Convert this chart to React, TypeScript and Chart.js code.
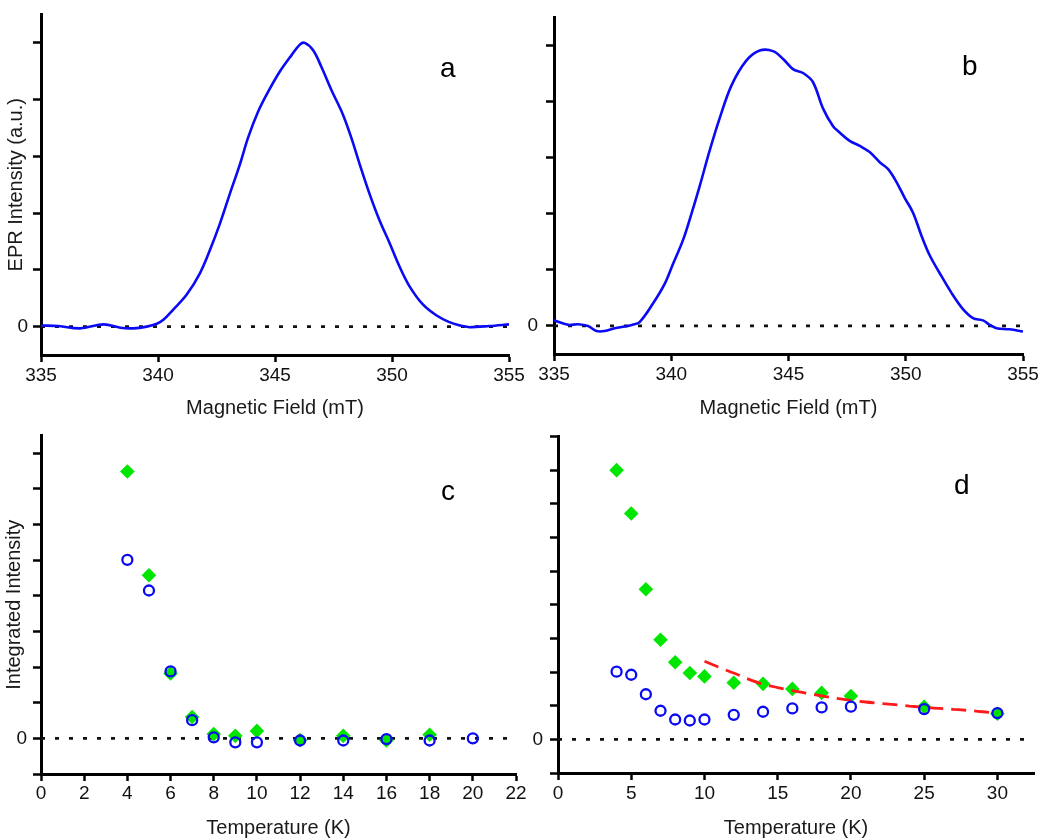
import React, { useEffect, useRef } from 'react';
import { Chart, registerables } from 'chart.js';

Chart.register(...registerables);

const FONT = "'Liberation Sans', Arial, Helvetica, sans-serif";
const BLUE = '#0a0af5';
const GREEN = '#00e600';
const RED = '#ff1a1a';
const ZERO_COLOR = '#111111';

// ---------- Panel a: EPR spectrum ----------
const fieldA = [335.0, 335.75, 336.68, 337.68, 338.39, 338.94, 339.52, 339.95, 340.23, 340.65, 341.22, 341.79, 342.22, 342.65, 343.07, 343.5, 343.85, 344.28, 344.71, 345.2, 345.7, 346.06, 346.27, 346.63, 346.98, 347.41, 347.9, 348.26, 348.62, 349.04, 349.47, 349.9, 350.32, 350.75, 351.32, 351.89, 352.45, 353.02, 353.31, 354.16, 355.0];
const intensityA = [0.02, 0.01, -0.03, 0.04, -0.02, -0.03, 0.0, 0.05, 0.12, 0.3, 0.56, 0.94, 1.35, 1.82, 2.34, 2.86, 3.33, 3.79, 4.14, 4.49, 4.78, 4.97, 5.0, 4.87, 4.58, 4.17, 3.74, 3.33, 2.86, 2.34, 1.87, 1.47, 1.06, 0.71, 0.39, 0.2, 0.08, 0.01, -0.01, 0.01, 0.04];

// ---------- Panel b: EPR spectrum ----------
const fieldB = [335.0, 335.6, 336.02, 336.45, 336.81, 337.16, 337.59, 338.01, 338.35, 338.65, 339.22, 339.72, 340.07, 340.5, 340.86, 341.21, 341.64, 342.07, 342.57, 343.2, 343.77, 344.34, 344.77, 345.19, 345.62, 346.04, 346.47, 346.9, 347.18, 347.61, 348.04, 348.46, 348.89, 349.24, 349.6, 349.96, 350.31, 350.67, 351.02, 351.45, 351.95, 352.44, 352.87, 353.29, 353.58, 353.87, 354.43, 355.0];
const intensityB = [0.1, 0.02, 0.03, 0.0, -0.09, -0.09, -0.04, -0.01, 0.02, 0.07, 0.4, 0.75, 1.1, 1.53, 2.0, 2.49, 3.13, 3.71, 4.29, 4.73, 4.91, 4.9, 4.76, 4.58, 4.51, 4.35, 3.88, 3.56, 3.45, 3.3, 3.21, 3.1, 2.92, 2.8, 2.57, 2.28, 2.02, 1.61, 1.26, 0.94, 0.59, 0.3, 0.14, 0.1, 0.02, -0.04, -0.06, -0.1];

const fieldTicks = [335, 340, 345, 350, 355];
const spectrumYTicks = [0, 1, 2, 3, 4, 5];
const spectrumZeroX = [335, 355];
const spectrumZeroY = [0, 0];

// ---------- Panel c: integrated intensity ----------
const tempCGreen = [4, 5, 6, 7, 8, 9, 10, 12, 14, 16, 18];
const intCGreen = [7.49, 4.58, 1.82, 0.6, 0.12, 0.07, 0.21, -0.05, 0.07, -0.06, 0.1];
const tempCBlue = [4, 5, 6, 7, 8, 9, 10, 12, 14, 16, 18, 20];
const intCBlue = [5.01, 4.15, 1.88, 0.51, 0.03, -0.11, -0.11, -0.06, -0.06, -0.02, -0.06, 0.0];
const tempCTicks = [0, 2, 4, 6, 8, 10, 12, 14, 16, 18, 20, 22];
const intCYTicks = [-1, 0, 1, 2, 3, 4, 5, 6, 7, 8];
const zeroCX = [0, 22];
const zeroCY = [0, 0];

// ---------- Panel d: integrated intensity ----------
const tempD = [4, 5, 6, 7, 8, 9, 10, 12, 14, 16, 18, 20, 25, 30];
const intDGreen = [8.0, 6.71, 4.46, 2.96, 2.29, 1.97, 1.87, 1.68, 1.65, 1.5, 1.38, 1.29, 0.97, 0.76];
const intDBlue = [2.01, 1.92, 1.34, 0.85, 0.59, 0.56, 0.59, 0.73, 0.82, 0.92, 0.95, 0.97, 0.9, 0.78];
const fitT = [10, 11, 12, 13, 14, 15, 16, 17, 18, 19, 20, 21, 22, 23, 24, 25, 26, 27, 28, 29, 30];
const fitY = [2.32, 2.14, 1.97, 1.79, 1.64, 1.54, 1.45, 1.37, 1.29, 1.22, 1.16, 1.11, 1.07, 1.03, 0.99, 0.95, 0.92, 0.89, 0.86, 0.82, 0.78];
const tempDTicks = [0, 5, 10, 15, 20, 25, 30];
const intDYTicks = [-1, 0, 1, 2, 3, 4, 5, 6, 7, 8, 9];
const zeroDX = [0, 32];
const zeroDY = [0, 0];

const pts = (xs: number[], ys: number[]) => xs.map((x, i) => ({ x, y: ys[i] }));

const letterPlugin = {
  id: 'panelLetter',
  afterDraw(chart: any, _args: any, opts: any) {
    const ctx = chart.ctx;
    ctx.save();
    ctx.font = `28px ${FONT}`;
    ctx.fillStyle = '#000';
    ctx.textAlign = 'center';
    ctx.textBaseline = 'alphabetic';
    ctx.fillText(opts.text, opts.x, opts.y);
    ctx.restore();
  },
};

type PanelSpec = {
  left: number; top: number; w: number; h: number;
  pad: { left: number; right: number; top: number; bottom: number };
  yWidth: number; xHeight: number;
  xMin: number; xMax: number; xTicks: number[];
  yMin: number; yMax: number; yTicks: number[];
  xTitle: string; xTitlePad: number; xTickPad: number;
  yTitle?: string; yTitlePad?: number; yTickPad: number;
  letter: { text: string; x: number; y: number };
  datasets: any[];
};

function zeroLine(xs: number[], ys: number[]) {
  return {
    data: pts(xs, ys), showLine: true, pointRadius: 0, borderColor: ZERO_COLOR,
    borderWidth: 2.7, borderDash: [4, 10], fill: false, order: 5,
  };
}
function curve(xs: number[], ys: number[]) {
  return {
    data: pts(xs, ys), showLine: true, pointRadius: 0, borderColor: BLUE,
    borderWidth: 2.6, tension: 0.35, fill: false, order: 0,
  };
}
function diamonds(xs: number[], ys: number[]) {
  return {
    data: pts(xs, ys), showLine: false, pointStyle: 'rectRot', pointRadius: 7.3,
    backgroundColor: GREEN, borderColor: GREEN, borderWidth: 0, order: 3,
  };
}
function circles(xs: number[], ys: number[]) {
  return {
    data: pts(xs, ys), showLine: false, pointStyle: 'circle', pointRadius: 5,
    backgroundColor: 'rgba(0,0,0,0)', borderColor: BLUE, borderWidth: 2.3, order: 0,
  };
}

const panels: PanelSpec[] = [
  {
    left: 0, top: 0, w: 545, h: 420,
    pad: { left: 0, right: 36, top: 12, bottom: 0 }, yWidth: 41, xHeight: 65,
    xMin: 335, xMax: 355, xTicks: fieldTicks, yMin: -0.5, yMax: 5.5, yTicks: spectrumYTicks,
    xTitle: 'Magnetic Field (mT)', xTitlePad: 1.3, xTickPad: 4.5,
    yTitle: 'EPR Intensity (a.u.)', yTitlePad: 4.7, yTickPad: 5,
    letter: { text: 'a', x: 447.7, y: 76.7 },
    datasets: [curve(fieldA, intensityA), zeroLine(spectrumZeroX, spectrumZeroY)],
  },
  {
    left: 525, top: 0, w: 525, h: 420,
    pad: { left: 0, right: 27, top: 10, bottom: 0 }, yWidth: 29, xHeight: 66,
    xMin: 335, xMax: 355, xTicks: fieldTicks, yMin: -0.5, yMax: 5.5, yTicks: spectrumYTicks,
    xTitle: 'Magnetic Field (mT)', xTitlePad: 1.3, xTickPad: 4.5,
    yTickPad: 8,
    letter: { text: 'b', x: 444.7, y: 75 },
    datasets: [curve(fieldB, intensityB), zeroLine(spectrumZeroX, spectrumZeroY)],
  },
  {
    left: 0, top: 420, w: 545, h: 420,
    pad: { left: 0, right: 29, top: 10, bottom: 0 }, yWidth: 41, xHeight: 66,
    xMin: 0, xMax: 22, xTicks: tempCTicks, yMin: -1, yMax: 8.5, yTicks: intCYTicks,
    xTitle: 'Temperature (K)', xTitlePad: 3, xTickPad: 3,
    yTitle: 'Integrated Intensity', yTitlePad: 2.7, yTickPad: 6,
    letter: { text: 'c', x: 448, y: 80 },
    datasets: [
      circles(tempCBlue, intCBlue),
      diamonds(tempCGreen, intCGreen),
      zeroLine(zeroCX, zeroCY),
    ],
  },
  {
    left: 525, top: 420, w: 525, h: 420,
    pad: { left: 0, right: 16, top: 10, bottom: 0 }, yWidth: 33, xHeight: 67,
    xMin: 0, xMax: 32.5, xTicks: tempDTicks, yMin: -1, yMax: 9, yTicks: intDYTicks,
    xTitle: 'Temperature (K)', xTitlePad: 3, xTickPad: 3.8,
    yTickPad: 7,
    letter: { text: 'd', x: 436.7, y: 74 },
    datasets: [
      circles(tempD, intDBlue),
      {
        data: pts(fitT, fitY), showLine: true, pointRadius: 0, borderColor: RED,
        borderWidth: 2.8, borderDash: [15, 8], cubicInterpolationMode: 'monotone', fill: false, order: 1,
      },
      diamonds(tempD, intDGreen),
      zeroLine(zeroDX, zeroDY),
    ],
  },
];

function Panel({ spec }: { spec: PanelSpec }) {
  const ref = useRef<HTMLCanvasElement | null>(null);
  useEffect(() => {
    if (!ref.current) return;
    const chart = new Chart(ref.current, {
      type: 'scatter',
      data: { datasets: spec.datasets },
      plugins: [letterPlugin],
      options: {
        animation: false,
        responsive: false,
        devicePixelRatio: 1,
        layout: { padding: spec.pad },
        plugins: {
          legend: { display: false },
          tooltip: { enabled: false },
          panelLetter: spec.letter,
        } as any,
        scales: {
          x: {
            type: 'linear', min: spec.xMin, max: spec.xMax,
            afterFit: (s: any) => { s.height = spec.xHeight; },
            afterBuildTicks: (s: any) => { s.ticks = spec.xTicks.map((v) => ({ value: v })); },
            ticks: {
              font: { family: FONT, size: 19, lineHeight: 1 }, color: '#111',
              padding: spec.xTickPad, maxRotation: 0, minRotation: 0, autoSkip: false,
              callback: (v: any) => String(v),
            },
            grid: { drawOnChartArea: false, drawTicks: true, tickLength: 7, tickWidth: 2.5, tickColor: '#000' },
            border: { display: true, color: '#000', width: 3 },
            title: {
              display: true, text: spec.xTitle, color: '#1a1a1a',
              font: { family: FONT, size: 20 }, padding: { top: spec.xTitlePad, bottom: 0 },
            },
          },
          y: {
            type: 'linear', min: spec.yMin, max: spec.yMax,
            afterFit: (s: any) => { s.width = spec.yWidth; },
            afterBuildTicks: (s: any) => { s.ticks = spec.yTicks.map((v) => ({ value: v })); },
            ticks: {
              font: { family: FONT, size: 19, lineHeight: 1 }, color: '#111',
              padding: spec.yTickPad, autoSkip: false,
              callback: (v: any) => (Number(v) === 0 ? '0' : ''),
            },
            grid: { drawOnChartArea: false, drawTicks: true, tickLength: 8, tickWidth: 2.5, tickColor: '#000' },
            border: { display: true, color: '#000', width: 3 },
            title: {
              display: !!spec.yTitle, text: spec.yTitle || '', color: '#1a1a1a',
              font: { family: FONT, size: 20 }, padding: { top: spec.yTitlePad || 0, bottom: 0 },
            },
          },
        },
      } as any,
    });
    return () => chart.destroy();
  }, [spec]);
  return (
    <canvas
      ref={ref}
      width={spec.w}
      height={spec.h}
      style={{ position: 'absolute', left: spec.left, top: spec.top, width: spec.w, height: spec.h }}
    />
  );
}

export default function App() {
  useEffect(() => {
    document.body.style.margin = '0';
    document.body.style.background = '#ffffff';
  }, []);
  return (
    <div style={{ position: 'relative', width: 1050, height: 840, background: '#fff', overflow: 'hidden' }}>
      {panels.map((p, i) => (
        <Panel key={i} spec={p} />
      ))}
    </div>
  );
}
